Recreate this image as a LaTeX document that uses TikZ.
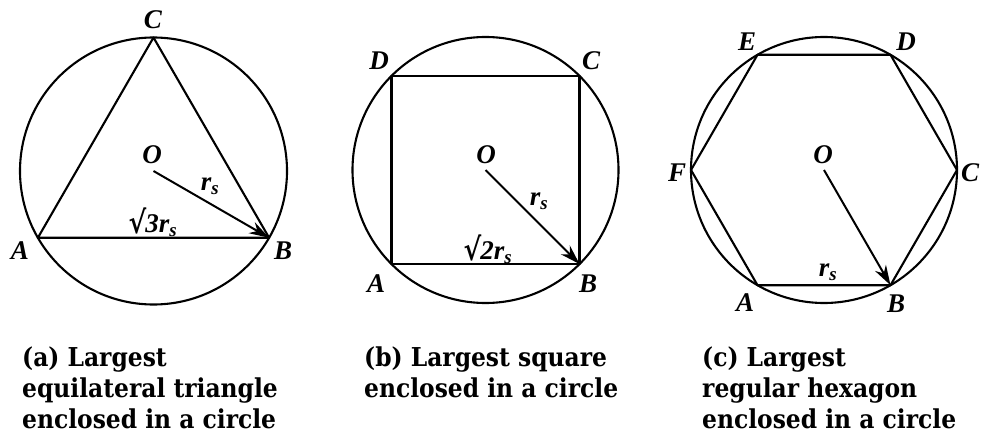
\documentclass[tikz,border=0pt]{standalone}
\usepackage{fontspec}
\setmainfont{Liberation Serif}
\newfontfamily\capfont{DejaVu Serif Condensed}
\newfontfamily\radfont{DejaVu Serif}
\newcommand{\myrad}{{\radfont\bfseries\upshape\raisebox{-1pt}{\scalebox{1}[1.15]{√}}}\kern-1pt}
\usetikzlibrary{arrows.meta}
\begin{document}
\begin{tikzpicture}[x=1pt,y=-1pt,
  shapeline/.style={line width=2.1pt, line join=round},
  radiusarrow/.style={line width=2pt, -{Stealth[length=20pt,width=12.5pt]}},
  vlabel/.style={font=\fontsize{27}{27}\selectfont\bfseries\itshape, inner sep=0pt},
  captiontext/.style={font=\fontsize{26}{31}\selectfont\capfont\bfseries, align=left, anchor=north west, inner sep=0pt}]
\useasboundingbox (0,0) rectangle (981,438);
% (a) triangle
\coordinate (Oa) at (153.5,171);
\coordinate (Ca) at (153.5,37.5);
\coordinate (Aa) at (37.9,237.75);
\coordinate (Ba) at (269.1,237.75);
\draw[shapeline] (Oa) circle[radius=133.5pt];
\draw[shapeline] (Aa) -- (Ba) -- (Ca) -- cycle;
\draw[radiusarrow] (Oa) -- (Ba);
\node[vlabel] (la) at (153,20) {C};
\node[vlabel] (lA) at (20,251) {A};
\node[vlabel] (lB) at (283,251) {B};
\node[vlabel] (lOa) at (152,155) {O};
\node[vlabel] (rsa) at (210,186) {r\textsubscript{s}};
\node[vlabel] (sqa) at (153,222) {\myrad 3r\textsubscript{s}};
% (b) square
\coordinate (Ob) at (485.5,170);
\coordinate (Db) at (391.5,76);
\coordinate (Cb) at (579.5,76);
\coordinate (Ab) at (391.5,264);
\coordinate (Bb) at (579.5,264);
\draw[shapeline] (Ob) circle[radius=133pt];
\draw[shapeline] (Ab) -- (Bb) -- (Cb) -- (Db) -- cycle;
\draw[radiusarrow] (Ob) -- (Bb);
\node[vlabel] (lDb) at (379,61) {D};
\node[vlabel] (lCb) at (591,61) {C};
\node[vlabel] (lAb) at (376,284) {A};
\node[vlabel] (lBb) at (588,284) {B};
\node[vlabel] (lOb) at (486,155) {O};
\node[vlabel] (rsb) at (539,201) {r\textsubscript{s}};
\node[vlabel] (sqb) at (488,249) {\myrad 2r\textsubscript{s}};
% (c) hexagon
\coordinate (Oc) at (824,170);
\coordinate (Cc) at (957,170);
\coordinate (Dc) at (890.5,54.8);
\coordinate (Ec) at (757.5,54.8);
\coordinate (Fc) at (691,170);
\coordinate (Ac) at (757.5,285.2);
\coordinate (Bc) at (890.5,285.2);
\draw[shapeline] (Oc) circle[radius=133pt];
\draw[shapeline] (Ac) -- (Bc) -- (Cc) -- (Dc) -- (Ec) -- (Fc) -- cycle;
\draw[radiusarrow] (Oc) -- (Bc);
\node[vlabel] (lEc) at (747,42) {E};
\node[vlabel] (lDc) at (906,42) {D};
\node[vlabel] (lFc) at (677,173) {F};
\node[vlabel] (lCc) at (970,173) {C};
\node[vlabel] (lAc) at (745,303) {A};
\node[vlabel] (lBc) at (896,304) {B};
\node[vlabel] (lOc) at (823,155) {O};
\node[vlabel] (rsc) at (828,272) {r\textsubscript{s}};
% captions
\node[captiontext] (capa) at (22,347) {(a) Largest\\equilateral triangle\\enclosed in a circle};
\node[captiontext] (capb) at (364,347) {(b) Largest square\\enclosed in a circle};
\node[captiontext] (capc) at (702,347) {(c) Largest\\regular hexagon\\enclosed in a circle};
\end{tikzpicture}
\end{document}
